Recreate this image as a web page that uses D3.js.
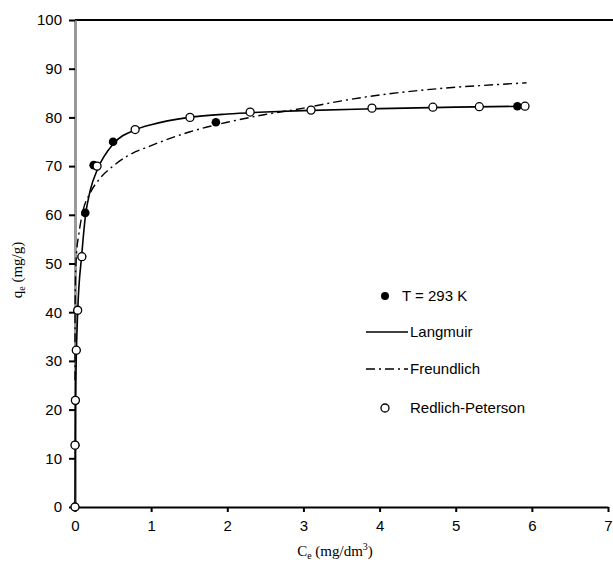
<!DOCTYPE html>
<html><head><meta charset="utf-8">
<script src="https://cdn.jsdelivr.net/npm/d3@7"></script>
<style>body{margin:0;background:#fff}svg{display:block}</style>
</head><body><svg id="c" width="613" height="564"></svg>
<script>
// Experimental data, T = 293 K (filled)
const expC = [0, 0.003, 0.007, 0.017, 0.035, 0.09, 0.135, 0.245, 0.5, 1.85, 5.81];
const expQ = [0, 12.7, 21.9, 32.2, 40.4, 51.4, 60.4, 70.2, 75.0, 79.0, 82.3];
// Redlich-Peterson (open markers)
const rpC = [0, 0, 0.005, 0.017, 0.035, 0.09, 0.29, 0.79, 1.51, 2.3, 3.1, 3.9, 4.7, 5.31, 5.91];
const rpQ = [0, 12.7, 21.9, 32.2, 40.4, 51.4, 70.0, 77.5, 80.0, 81.1, 81.5, 81.9, 82.1, 82.2, 82.3];
// Langmuir curve (solid)
const lanC = [0, 0.005, 0.017, 0.035, 0.09, 0.135, 0.2, 0.3, 0.5, 0.8, 1.0, 1.5, 2.0, 2.5, 3.0, 4.0, 5.0, 5.9];
const lanQ = [0, 20, 31, 40, 52, 59.5, 65, 69.5, 74.5, 77.5, 78.5, 80, 80.7, 81.1, 81.4, 81.8, 82.1, 82.3];
// Freundlich curve (dash-dot)
const frC = [0, 0.001, 0.005, 0.01, 0.02, 0.05, 0.1, 0.2, 0.33, 0.5, 0.68, 1.0, 1.5, 2.0, 2.5, 3.0, 3.5, 4.0, 4.5, 5.0, 5.5, 5.93];
const frQ = [26, 40, 46, 49, 52, 56, 60.5, 64.5, 67.5, 70, 72, 74.2, 77, 79, 80.6, 81.9, 83.4, 84.6, 85.5, 86.2, 86.7, 87.1];
const xTicks = [0, 1, 2, 3, 4, 5, 6, 7];
const yTicks = [0, 10, 20, 30, 40, 50, 60, 70, 80, 90, 100];
const legendItems = ["T = 293 K", "Langmuir", "Freundlich", "Redlich-Peterson"];

const svg = d3.select("#c");
const x = d3.scaleLinear().domain([0, 7]).range([75, 608]);
const y = d3.scaleLinear().domain([0, 100]).range([507, 20]);
const sans = "Liberation Sans, Arial, sans-serif";
const serif = "Liberation Serif, Times New Roman, serif";

// top border
svg.append("line").attr("x1", x(0)).attr("x2", 613).attr("y1", y(100)).attr("y2", y(100))
  .attr("stroke", "#000").attr("stroke-width", 2);

// y axis
const ya = svg.append("g").attr("transform", `translate(${x(0)},0)`)
  .call(d3.axisLeft(y).tickValues(yTicks).tickFormat(d3.format("d")).tickSize(6).tickSizeOuter(0).tickPadding(7));
ya.select(".domain").attr("stroke", "#999").attr("stroke-width", 3);
ya.selectAll(".tick line").attr("stroke", "#000").attr("stroke-width", 2);
ya.selectAll("text").attr("font-family", sans).attr("font-size", 15).attr("fill", "#000");

// x axis
const xa = svg.append("g").attr("transform", `translate(0,${y(0)})`)
  .call(d3.axisBottom(x).tickValues(xTicks).tickFormat(d3.format("d")).tickSize(5).tickSizeOuter(0).tickPadding(8));
xa.select(".domain").attr("stroke", "#000").attr("stroke-width", 2);
xa.selectAll(".tick line").attr("stroke", "#000").attr("stroke-width", 2);
xa.selectAll("text").attr("font-family", sans).attr("font-size", 15).attr("fill", "#000");

// curves
const line = d3.line().x(d => x(d[0])).y(d => y(d[1])).curve(d3.curveMonotoneX);
svg.append("path").attr("d", line(frC.map((c, i) => [c, frQ[i]])))
  .attr("fill", "none").attr("stroke", "#000").attr("stroke-width", 1.4)
  .attr("stroke-dasharray", "9,4,2,4");
svg.append("path").attr("d", line(lanC.map((c, i) => [c, lanQ[i]])))
  .attr("fill", "none").attr("stroke", "#000").attr("stroke-width", 1.6);

// markers
svg.append("g").selectAll("circle").data(expC.map((c, i) => [c, expQ[i]])).join("circle")
  .attr("cx", d => x(d[0])).attr("cy", d => y(d[1])).attr("r", 4.3).attr("fill", "#000");
svg.append("g").selectAll("circle").data(rpC.map((c, i) => [c, rpQ[i]])).join("circle")
  .attr("cx", d => x(d[0])).attr("cy", d => y(d[1])).attr("r", 4).attr("fill", "#fff")
  .attr("stroke", "#000").attr("stroke-width", 1.3);

// legend
const lg = svg.append("g");
const ly = [296, 332, 369, 408];
lg.append("circle").attr("cx", 385).attr("cy", ly[0]).attr("r", 4).attr("fill", "#000");
lg.append("line").attr("x1", 366).attr("x2", 408).attr("y1", ly[1]).attr("y2", ly[1])
  .attr("stroke", "#000").attr("stroke-width", 1.4);
lg.append("line").attr("x1", 366).attr("x2", 408).attr("y1", ly[2]).attr("y2", ly[2])
  .attr("stroke", "#000").attr("stroke-width", 1.4).attr("stroke-dasharray", "9,4,2,4");
lg.append("circle").attr("cx", 385).attr("cy", ly[3]).attr("r", 4).attr("fill", "#fff")
  .attr("stroke", "#000").attr("stroke-width", 1.3);
legendItems.forEach((t, i) => {
  lg.append("text").attr("x", i === 0 ? 402 : 410).attr("y", ly[i] + 5)
    .attr("font-family", sans).attr("font-size", 15).attr("fill", "#000").text(t);
});

// axis titles
const yt = svg.append("text").attr("transform", "translate(22,270) rotate(-90)")
  .attr("text-anchor", "middle").attr("font-family", serif).attr("font-size", 15).attr("fill", "#000");
yt.append("tspan").text("q");
yt.append("tspan").attr("font-size", 10).attr("dy", 3).text("e");
yt.append("tspan").attr("dy", -3).text(" (mg/g)");

const xt = svg.append("text").attr("x", 335).attr("y", 556)
  .attr("text-anchor", "middle").attr("font-family", serif).attr("font-size", 15).attr("fill", "#000");
xt.append("tspan").text("C");
xt.append("tspan").attr("font-size", 10).attr("dy", 3).text("e");
xt.append("tspan").attr("dy", -3).text(" (mg/dm");
xt.append("tspan").attr("font-size", 10).attr("dy", -6).text("3");
xt.append("tspan").attr("dy", 6).text(")");
</script></body></html>
